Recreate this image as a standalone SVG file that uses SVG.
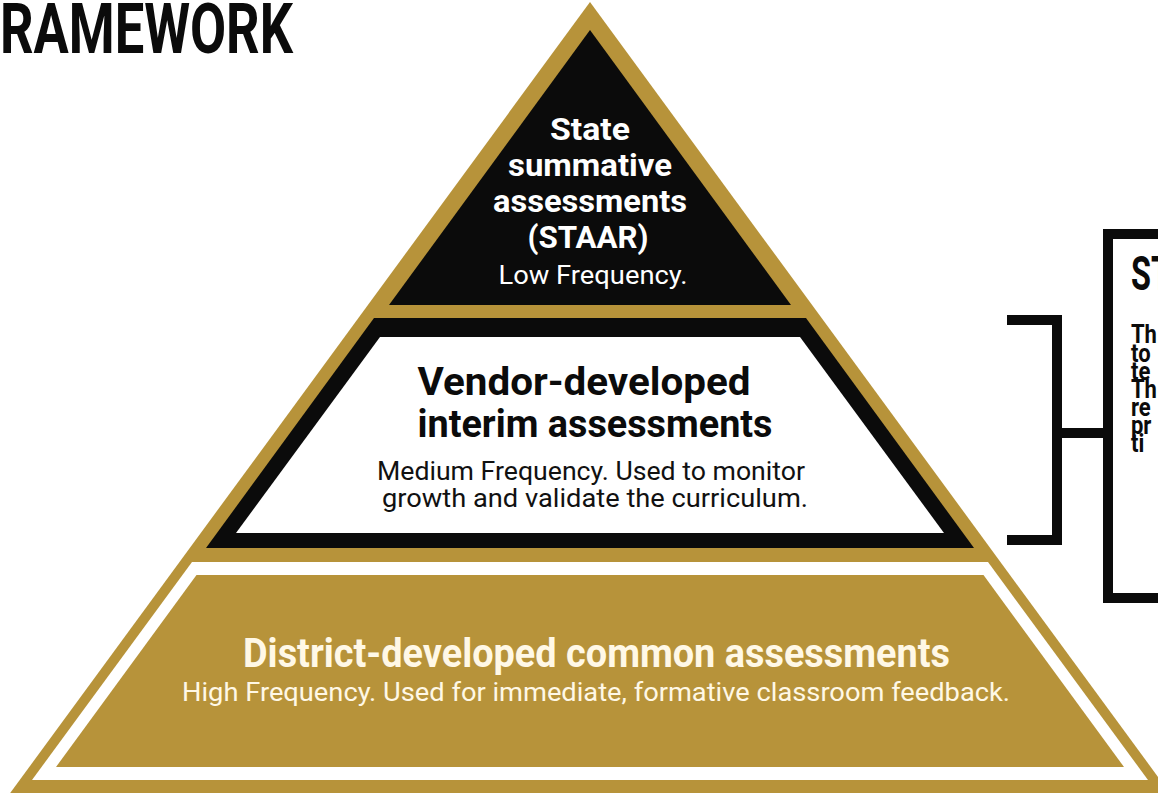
<svg xmlns="http://www.w3.org/2000/svg" width="1158" height="793" viewBox="0 0 1158 793">
<style>
.b{font-family:Roboto,"Liberation Sans",sans-serif;font-weight:700}
.r{font-family:Roboto,"Liberation Sans",sans-serif;font-weight:400}
.gold{fill:#B7933A}
.blk{fill:#0B0B0B}
.wt{fill:#FFFFFF}
.ln{fill:none;stroke:#0B0B0B;stroke-width:10}
</style>
<rect width="1158" height="793" fill="#FFFFFF"/>
<g id="title">
<text class="b" x="0" y="53" font-size="71" fill="#0B0B0B" textLength="293" lengthAdjust="spacingAndGlyphs">RAMEWORK</text>
</g>
<g id="pyramid-frame">
<polygon class="gold" points="590,2 1172,796 8,796"/>
</g>
<g id="tier-state">
<polygon class="blk" points="590,30 791,305 389,305"/>
<g class="b" fill="#FFFFFF" text-anchor="middle">
<text x="590" y="140" font-size="32" textLength="80" lengthAdjust="spacingAndGlyphs">State</text>
<text x="590" y="176" font-size="32" textLength="164" lengthAdjust="spacingAndGlyphs">summative</text>
<text x="590" y="212" font-size="32" textLength="194" lengthAdjust="spacingAndGlyphs">assessments</text>
<text x="588" y="248" font-size="32" textLength="121" lengthAdjust="spacingAndGlyphs">(STAAR)</text>
</g>
<text class="r" x="593" y="284" font-size="25" fill="#FFFFFF" text-anchor="middle" textLength="189" lengthAdjust="spacingAndGlyphs">Low Frequency.</text>
</g>
<g id="tier-vendor">
<polygon class="blk" points="374,318 806,318 974,548 206,548"/>
<polygon class="wt" points="380,337 800,337 944,533 236,533"/>
<g class="b" fill="#0B0B0B" text-anchor="middle">
<text x="584" y="395" font-size="39" textLength="333" lengthAdjust="spacingAndGlyphs">Vendor-developed</text>
<text x="595" y="437" font-size="39" textLength="355" lengthAdjust="spacingAndGlyphs">interim assessments</text>
</g>
<g class="r" fill="#111111" text-anchor="middle" font-size="25">
<text x="591" y="480" textLength="428" lengthAdjust="spacingAndGlyphs">Medium Frequency. Used to monitor</text>
<text x="595" y="507" textLength="426" lengthAdjust="spacingAndGlyphs">growth and validate the curriculum.</text>
</g>
</g>
<g id="tier-district">
<polygon class="wt" points="192,562 988,562 1148,780 32,780"/>
<polygon class="gold" points="196.5,575 983.5,575 1124,767 56,767"/>
<text class="b" x="596.5" y="667" font-size="41" fill="#FFF8E6" text-anchor="middle" textLength="707" lengthAdjust="spacingAndGlyphs">District-developed common assessments</text>
<text class="r" x="596" y="701" font-size="25" fill="#FFF8E6" text-anchor="middle" textLength="828" lengthAdjust="spacingAndGlyphs">High Frequency. Used for immediate, formative classroom feedback.</text>
</g>
<g id="connectors">
<path class="ln" d="M1007,320 H1057 V540 H1007"/>
<path class="ln" d="M1057,433 H1108"/>
</g>
<g id="side-box">
<rect x="1108" y="234" width="100" height="364" fill="#FFFFFF" stroke="#0B0B0B" stroke-width="10"/>
<text class="b" x="1131" y="290" font-size="49" fill="#0B0B0B" textLength="40" lengthAdjust="spacingAndGlyphs">ST</text>
<g class="b" fill="#0B0B0B" font-size="25" transform="translate(1131,0) scale(0.88,1)">
<text x="0" y="343">Th</text>
<text x="0" y="362">to</text>
<text x="0" y="380">te</text>
<text x="0" y="398">Th</text>
<text x="0" y="416">re</text>
<text x="0" y="434">pr</text>
<text x="0" y="452">ti</text>
</g>
</g>
</svg>
